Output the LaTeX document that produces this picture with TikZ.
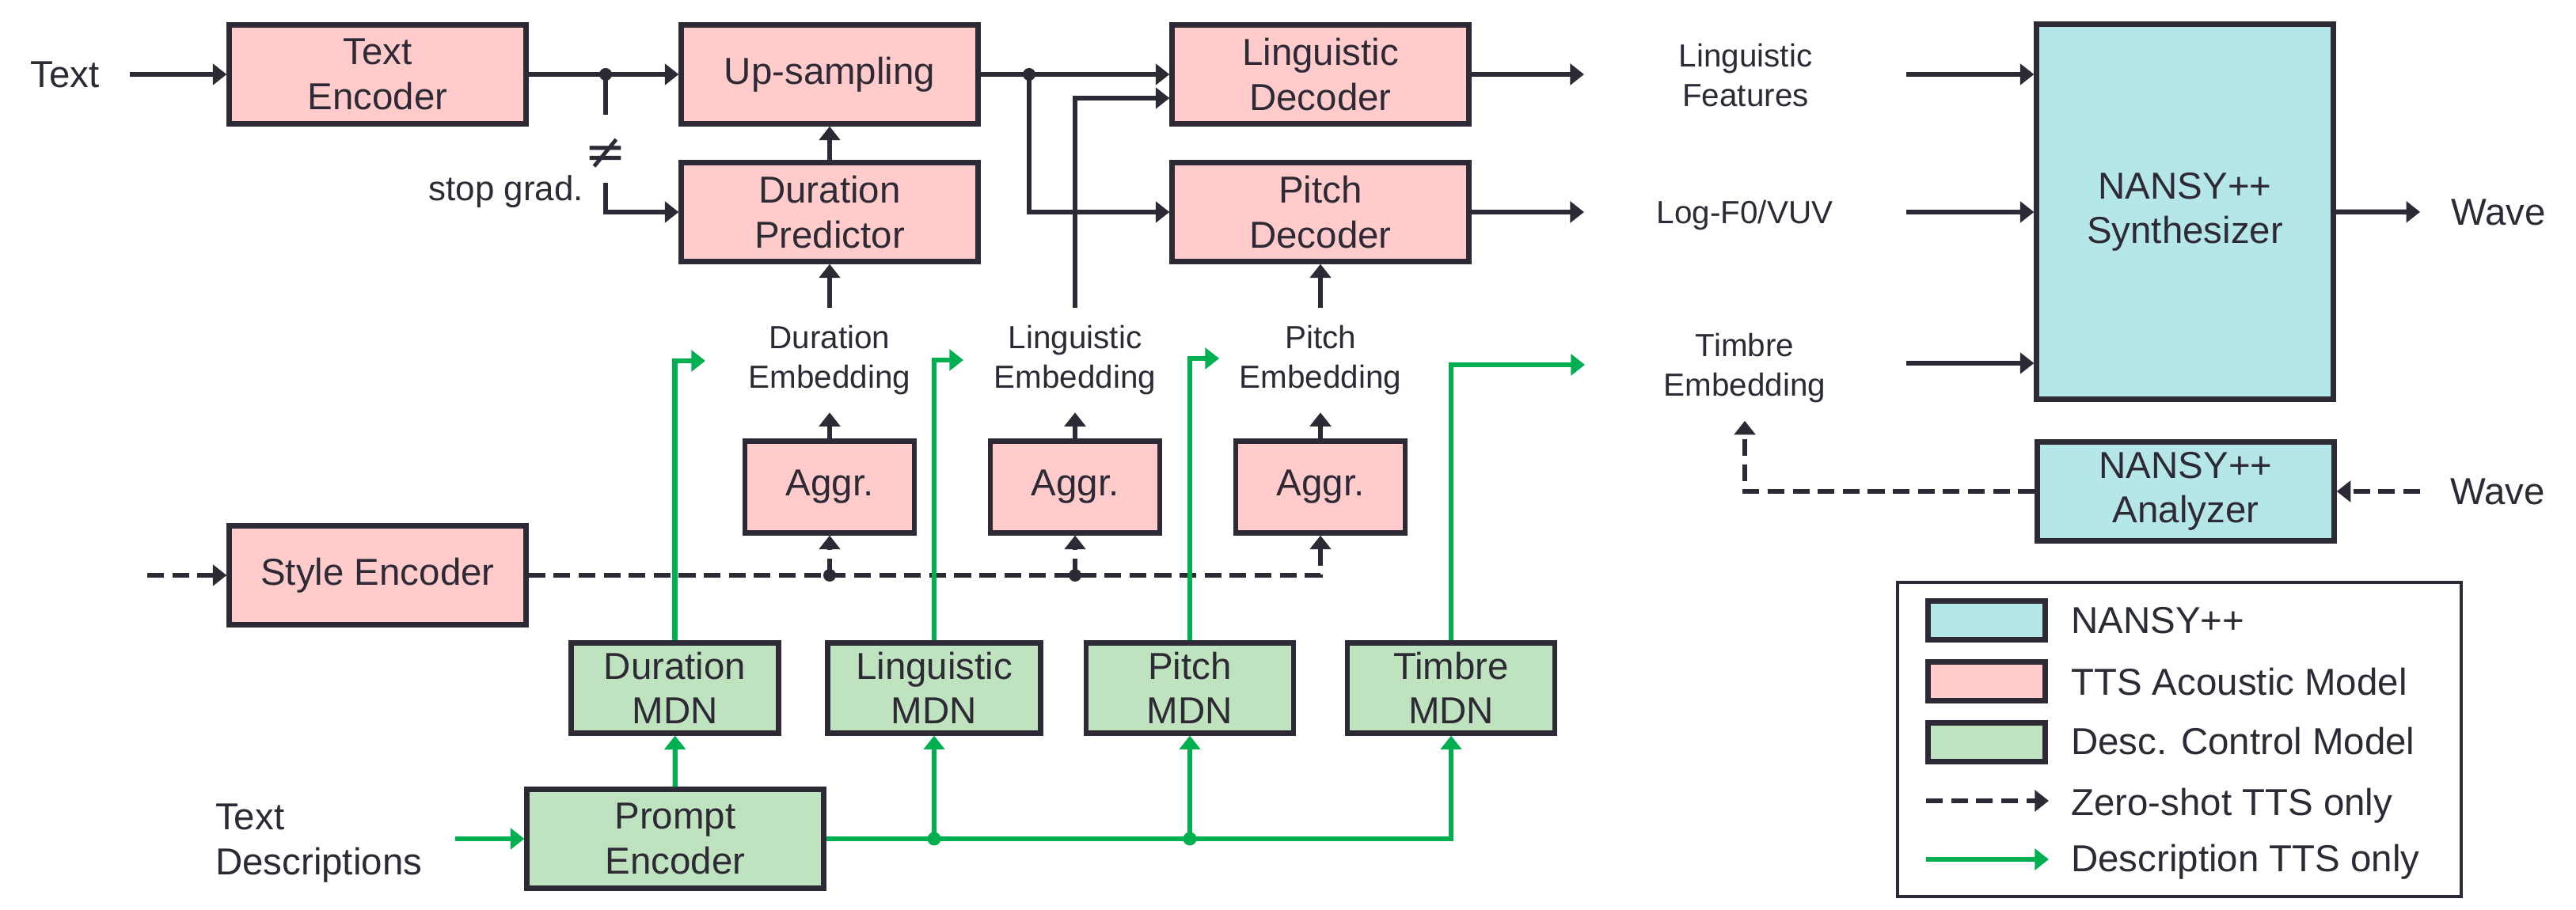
\documentclass[tikz,border=0pt]{standalone}
\usepackage{fontspec}
\setmainfont{Liberation Sans}
\newfontfamily\symfont{DejaVu Sans}
\usetikzlibrary{arrows.meta}
\definecolor{ink}{HTML}{2E2A35}
\definecolor{ttsfill}{HTML}{FFCCCB}
\definecolor{nansyfill}{HTML}{B5E6E8}
\definecolor{descfill}{HTML}{BFE3BE}
\definecolor{descline}{HTML}{00B050}
\newcommand{\boxfont}{\fontsize{13.5}{16}\selectfont}
\newcommand{\lblfont}{\fontsize{11.5}{14.2}\selectfont}

\begin{document}
\begin{tikzpicture}[
    line width=1.8pt,
    font=\boxfont,
    color=ink
]
	\tikzset{
	    ttsnode/.style = {rectangle, draw=ink, align=center, fill=ttsfill, inner sep=0pt, minimum width=3.75cm, minimum height=1.25cm},
	    aggnode/.style = {ttsnode, minimum width=2.14cm, minimum height=1.16cm},
	    mdnnode/.style = {rectangle, draw=ink, align=center, fill=descfill, inner sep=0pt, minimum width=2.62cm, minimum height=1.14cm},
	    nansynode/.style = {rectangle, draw=ink, align=center, fill=nansyfill, inner sep=0pt, minimum width=3.75cm, minimum height=1.25cm},
	    lbl/.style = {align=center, font=\lblfont, inner xsep=2pt, inner ysep=5.5pt},
	    txtnode/.style = {inner sep=0pt},
	    edgen/.style = {-{Triangle[length=5pt,width=7.5pt]}},
	    edged/.style = {edgen, dash pattern=on 6pt off 3pt},
	    edgeg/.style = {edgen, draw=descline}
	}
	\useasboundingbox (0,0) rectangle (32.54,-11.5);
	\node[ttsnode] at (4.77,-0.94) (te) {Text\\Encoder};
	\node[ttsnode] at (10.48,-0.94) (up) {Up-sampling};
	\node[ttsnode] at (10.48,-2.68) (dp) {Duration\\Predictor};
	\node[ttsnode] at (16.68,-0.94) (ld) {Linguistic\\Decoder};
	\node[ttsnode] at (16.68,-2.68) (pd) {Pitch\\Decoder};
	\node[nansynode, minimum height=4.74cm] at (27.60,-2.675) (syn) {NANSY++\\Synthesizer};
	\node[nansynode] at (27.61,-6.21) (an) {NANSY++\\Analyzer};
	\node[aggnode] at (10.48,-6.155) (ag1) {Aggr.};
	\node[aggnode] at (13.58,-6.155) (ag2) {Aggr.};
	\node[aggnode] at (16.68,-6.155) (ag3) {Aggr.};
	\node[ttsnode] at (4.77,-7.27) (se) {Style Encoder};
	\node[mdnnode] at (8.525,-8.695) (dm) {Duration\\MDN};
	\node[mdnnode, minimum width=2.69cm] at (11.80,-8.695) (lm) {Linguistic\\MDN};
	\node[mdnnode] at (15.03,-8.695) (pm) {Pitch\\MDN};
	\node[mdnnode] at (18.33,-8.695) (tm) {Timbre\\MDN};
	\node[mdnnode, minimum width=3.75cm, minimum height=1.25cm] at (8.53,-10.60) (pr) {Prompt\\Encoder};
	\node[txtnode] at (0.82,-0.94) (txt) {Text};
	\node[txtnode, font=\fontsize{12.5}{15}\selectfont, anchor=east] at (7.40,-2.42) (sg) {stop grad.};
	\node[txtnode, font=\symfont\fontsize{18}{20}\selectfont] at (7.65,-1.94) (ne) {≠};
	\node[txtnode, align=left, anchor=west] at (2.69,-10.655) (td) {Text\\Descriptions};
	\node[lbl] at (10.48,-4.55) (de) {Duration\\Embedding};
	\node[lbl] at (13.58,-4.55) (le) {Linguistic\\Embedding};
	\node[lbl] at (16.68,-4.55) (pe) {Pitch\\Embedding};
	\node[lbl] at (22.05,-0.95) (lf) {Linguistic\\Features};
	\node[lbl] at (22.04,-2.72) (lv) {Log-F0/VUV};
	\node[lbl] at (22.04,-4.655) (tim) {Timbre\\Embedding};
	\node[txtnode] at (31.56,-2.68) (w1) {Wave};
	\node[txtnode] at (31.55,-6.21) (w2) {Wave};
	\coordinate (j0) at (7.65,-0.94);
	\coordinate (j2) at (13.00,-0.94);
	\coordinate (j3) at (ag1 |- se.east);
	\coordinate (j4) at (ag2 |- se.east);
	\coordinate (g1) at (lm |- pr.east);
	\coordinate (g2) at (pm |- pr.east);
	\coordinate (c0) at (1.86,-7.27);
	\coordinate (c1) at (8.91,-4.56);
	\coordinate (c2) at (12.17,-4.55);
	\coordinate (c3) at (15.40,-4.53);
	\coordinate (c4) at (20.02,-4.61);
	\coordinate (c5) at (20.01,-0.94);
	\coordinate (c6) at (20.01,-2.68);
	\coordinate (c7) at (24.08,-0.94);
	\coordinate (c8) at (24.08,-2.68);
	\coordinate (c9) at (24.08,-4.59);
	\draw[edgen, shorten <=0.35cm] (txt) -- (te);
	\draw[edgen] (te) -- (up);
	\draw[edgen] (up) -- (ld);
	\draw[shorten >=0.27cm] (j0) -- (ne);
	\draw[edgen, shorten <=0.15cm] (ne) |- (dp);
	\draw[edgen] (dp) -- (up);
	\draw[edgen] (de) -- (dp);
	\draw[edgen] (j2) |- (pd);
	\draw[edgen] (le) |- ([yshift=-0.30cm]ld.west);
	\draw[edgen] (pe) -- (pd);
	\draw[edgen] (ld) -- (c5);
	\draw[edgen] (pd) -- (c6);
	\draw[edgen] (c7) -- (c7 -| syn.west);
	\draw[edgen] (c8) -- (c8 -| syn.west);
	\draw[edgen] (c9) -- (c9 -| syn.west);
	\draw[edgen, shorten >=0.36cm] (syn) -- (w1);
	\draw[edged, shorten <=0.35cm] (w2) -- (an);
	\draw[edged] (an) -| (tim);
	\draw[edged] (c0) -- (se);
	\draw[edged] (se) -| (ag3);
	\draw[edged] (j3) -- (ag1);
	\draw[edged] (j4) -- (ag2);
	\draw[edged] (ag1) -- (de);
	\draw[edged] (ag2) -- (le);
	\draw[edged] (ag3) -- (pe);
	\draw[edgeg, shorten <=0.39cm] (td.east |- pr) -- (pr);
	\draw[edgeg] (pr) -- (dm);
	\draw[edgeg] (pr) -| (tm);
	\draw[edgeg] (g1) -- (lm);
	\draw[edgeg] (g2) -- (pm);
	\draw[edgeg] (dm) |- (c1);
	\draw[edgeg] (lm) |- (c2);
	\draw[edgeg] (pm) |- (c3);
	\draw[edgeg] (tm) |- (c4);
	\fill (j0) circle (0.08);
	\fill (j2) circle (0.08);
	\fill (j3) circle (0.08);
	\fill (j4) circle (0.08);
	\fill[descline] (g1) circle (0.085);
	\fill[descline] (g2) circle (0.085);
	\draw[line width=1.3pt] (23.97,-7.36) rectangle (31.09,-11.33);
	\node[nansynode, minimum width=1.48cm, minimum height=0.49cm] at (25.095,-7.84) (k1) {};
	\node[ttsnode, minimum width=1.48cm, minimum height=0.49cm] at (25.095,-8.61) (k2) {};
	\node[mdnnode, minimum width=1.48cm, minimum height=0.49cm] at (25.095,-9.38) (k3) {};
	\coordinate (k4a) at (24.33,-10.12);
	\coordinate (k4b) at (25.88,-10.12);
	\coordinate (k5a) at (24.33,-10.86);
	\coordinate (k5b) at (25.88,-10.86);
	\draw[edged] (k4a) -- (k4b);
	\draw[edgeg] (k5a) -- (k5b);
	\node[txtnode, anchor=base west] at (26.13,-8.01) (k1t) {NANSY++};
	\node[txtnode, anchor=base west] at (26.13,-8.78) (k2t) {TTS Acoustic Model};
	\node[txtnode, anchor=base west] at (26.13,-9.54) (k3t) {Desc. Control Model};
	\node[txtnode, anchor=base west] at (26.13,-10.30) (k4t) {Zero-shot TTS only};
	\node[txtnode, anchor=base west] at (26.13,-11.01) (k5t) {Description TTS only};
\end{tikzpicture}
\end{document}
